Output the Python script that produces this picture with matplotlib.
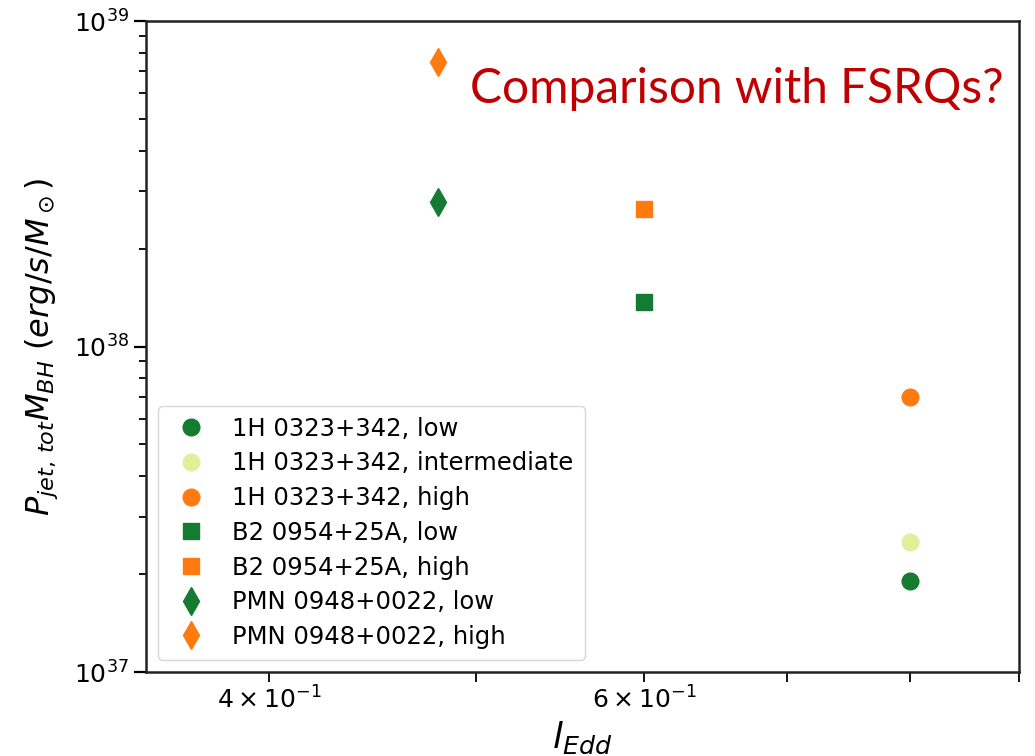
"""Jet power per black-hole mass against Eddington ratio for three NLS1 sources."""

import matplotlib

matplotlib.use("Agg")

import matplotlib.pyplot as plt

DARK_GREEN = "#157a32"
LIGHT_GREEN = "#e2ef9a"
ORANGE = "#ff7b10"

# one entry per plotted state
labels = [
    "1H 0323+342, low",
    "1H 0323+342, intermediate",
    "1H 0323+342, high",
    "B2 0954+25A, low",
    "B2 0954+25A, high",
    "PMN 0948+0022, low",
    "PMN 0948+0022, high",
]
l_edd = [0.80, 0.80, 0.80, 0.60, 0.60, 0.48, 0.48]
p_jet = [1.91e37, 2.50e37, 7.0e37, 1.37e38, 2.65e38, 2.77e38, 7.5e38]
markers = ["o", "o", "o", "s", "s", "d", "d"]
colors = [DARK_GREEN, LIGHT_GREEN, ORANGE, DARK_GREEN, ORANGE, DARK_GREEN, ORANGE]
sizes = [12, 12, 12, 11, 11, 14, 14]


def main() -> None:
    fig = plt.figure(figsize=(10.35, 7.56), dpi=100)
    ax = fig.add_axes([0.1411, 0.1111, 0.8434, 0.8611])

    for x, y, m, c, s, lab in zip(l_edd, p_jet, markers, colors, sizes, labels):
        ax.plot(x, y, linestyle="none", marker=m, color=c, markersize=s, label=lab)

    ax.set_xscale("log")
    ax.set_yscale("log")
    ax.set_xlim(0.35, 0.9)
    ax.set_ylim(1e37, 1e39)

    ax.tick_params(which="both", labelsize=18)
    ax.tick_params(which="major", length=9, width=1.6)
    ax.tick_params(which="minor", length=5, width=1.3)
    ax.tick_params(axis="x", which="minor", length=7, width=1.3)
    for spine in ax.spines.values():
        spine.set_linewidth(1.8)
        spine.set_color("#222222")

    ax.set_xlabel(r"$l_{Edd}$", fontsize=26, labelpad=4)
    ax.set_ylabel(r"$P_{jet,\,tot}M_{BH}\ (erg/s/M_\odot)$", fontsize=23, labelpad=10)

    ax.legend(
        loc="lower left",
        fontsize=17.5,
        frameon=True,
        borderpad=0.45,
        labelspacing=0.44,
        handletextpad=0.8,
        handlelength=1.8,
        bbox_to_anchor=(0.0, 0.0),
    )

    fig.text(
        470 / 1035,
        1 - 103 / 756,
        "Comparison with FSRQs?",
        color="#c00000",
        fontsize=34.5,
        family="Lato",
        ha="left",
        va="baseline",
    )

    fig.savefig("out.png", dpi=100, facecolor="white")
    plt.close(fig)


if __name__ == "__main__":
    main()
